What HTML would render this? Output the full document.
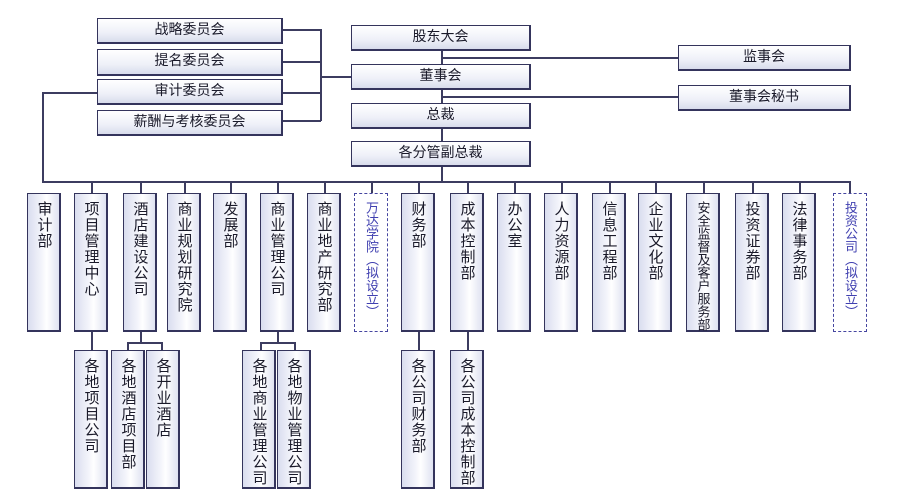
<!DOCTYPE html>
<html><head><meta charset="utf-8"><style>
body{margin:0;background:#fff;}
#c{position:relative;width:900px;height:499px;overflow:hidden;background:#fff;font-family:"Liberation Sans","Noto Sans CJK SC","WenQuanYi Zen Hei",sans-serif;color:#1a1a2a;}
.h{position:absolute;box-sizing:border-box;border:1.5px solid #34345c;border-bottom-width:2.5px;border-right-width:2px;background:linear-gradient(#ffffff,#eef0f8 60%,#d8dcec);font-size:14px;text-align:center;line-height:21px;}
.v{position:absolute;box-sizing:border-box;border:1.5px solid #34345c;border-right-width:2px;border-bottom-width:2px;background:linear-gradient(90deg,#d9ddef,#f4f5fb 45%,#fff 60%,#dfe2f1);top:193px;height:139px;width:34px;font-size:15px;}
.v span{position:absolute;top:7px;left:50%;transform:translateX(-50%);writing-mode:vertical-rl;text-orientation:upright;letter-spacing:1px;line-height:16px;white-space:nowrap;}
.v span.k{font-size:13px;letter-spacing:0;}
.s{top:350px;height:139px;}
.d{border:1.5px dashed #4646a0;background:#fff;color:#4040b0;}
.l{position:absolute;background:#3c3c60;}
</style></head><body><div id="c">
<div class="h" style="left:97px;top:18px;width:186px;height:26px">战略委员会</div>
<div class="h" style="left:97px;top:49px;width:186px;height:27px">提名委员会</div>
<div class="h" style="left:97px;top:79px;width:186px;height:26px">审计委员会</div>
<div class="h" style="left:97px;top:110px;width:186px;height:26px">薪酬与考核委员会</div>
<div class="l" style="left:283px;top:29px;width:38px;height:1.5px"></div>
<div class="l" style="left:283px;top:61px;width:38px;height:1.5px"></div>
<div class="l" style="left:283px;top:92px;width:38px;height:1.5px"></div>
<div class="l" style="left:283px;top:120px;width:38px;height:1.5px"></div>
<div class="l" style="left:320px;top:29px;width:1.5px;height:92px"></div>
<div class="l" style="left:320px;top:76px;width:31px;height:1.5px"></div>
<div class="l" style="left:43px;top:92px;width:54px;height:1.5px"></div>
<div class="l" style="left:42px;top:92px;width:1.5px;height:90px"></div>
<div class="h" style="left:351px;top:25px;width:180px;height:26px">股东大会</div>
<div class="h" style="left:351px;top:64px;width:180px;height:26px">董事会</div>
<div class="h" style="left:351px;top:103px;width:180px;height:26px">总裁</div>
<div class="h" style="left:351px;top:141px;width:180px;height:26px">各分管副总裁</div>
<div class="l" style="left:441px;top:51px;width:1.5px;height:13px"></div>
<div class="l" style="left:441px;top:90px;width:1.5px;height:13px"></div>
<div class="l" style="left:441px;top:129px;width:1.5px;height:12px"></div>
<div class="l" style="left:441px;top:167px;width:1.5px;height:14px"></div>
<div class="h" style="left:678px;top:45px;width:173px;height:26px">监事会</div>
<div class="h" style="left:678px;top:85px;width:173px;height:26px">董事会秘书</div>
<div class="l" style="left:441px;top:57px;width:237px;height:1.5px"></div>
<div class="l" style="left:441px;top:96px;width:237px;height:1.5px"></div>
<div class="l" style="left:42px;top:181px;width:808px;height:1.5px"></div>
<div class="l" style="left:91px;top:181px;width:1.5px;height:12px"></div>
<div class="l" style="left:140px;top:181px;width:1.5px;height:12px"></div>
<div class="l" style="left:184px;top:181px;width:1.5px;height:12px"></div>
<div class="l" style="left:230px;top:181px;width:1.5px;height:12px"></div>
<div class="l" style="left:277px;top:181px;width:1.5px;height:12px"></div>
<div class="l" style="left:324px;top:181px;width:1.5px;height:12px"></div>
<div class="l" style="left:371px;top:181px;width:1.5px;height:12px"></div>
<div class="l" style="left:418px;top:181px;width:1.5px;height:12px"></div>
<div class="l" style="left:467px;top:181px;width:1.5px;height:12px"></div>
<div class="l" style="left:514px;top:181px;width:1.5px;height:12px"></div>
<div class="l" style="left:561px;top:181px;width:1.5px;height:12px"></div>
<div class="l" style="left:609px;top:181px;width:1.5px;height:12px"></div>
<div class="l" style="left:655px;top:181px;width:1.5px;height:12px"></div>
<div class="l" style="left:703px;top:181px;width:1.5px;height:12px"></div>
<div class="l" style="left:752px;top:181px;width:1.5px;height:12px"></div>
<div class="l" style="left:799px;top:181px;width:1.5px;height:12px"></div>
<div class="l" style="left:849px;top:181px;width:1.5px;height:12px"></div>
<div class="v" style="left:27px"><span>审计部</span></div>
<div class="v" style="left:74px"><span>项目管理中心</span></div>
<div class="v" style="left:123px"><span>酒店建设公司</span></div>
<div class="v" style="left:167px"><span>商业规划研究院</span></div>
<div class="v" style="left:213px"><span>发展部</span></div>
<div class="v" style="left:260px"><span>商业管理公司</span></div>
<div class="v" style="left:307px"><span>商业地产研究部</span></div>
<div class="v d" style="left:354px"><span class="k">万达学院︵拟设立︶</span></div>
<div class="v" style="left:401px"><span>财务部</span></div>
<div class="v" style="left:450px"><span>成本控制部</span></div>
<div class="v" style="left:497px"><span>办公室</span></div>
<div class="v" style="left:544px"><span>人力资源部</span></div>
<div class="v" style="left:592px"><span>信息工程部</span></div>
<div class="v" style="left:638px"><span>企业文化部</span></div>
<div class="v" style="left:686px"><span class="k">安全监督及客户服务部</span></div>
<div class="v" style="left:735px"><span>投资证券部</span></div>
<div class="v" style="left:782px"><span>法律事务部</span></div>
<div class="v d" style="left:833px"><span class="k">投资公司︵拟设立︶</span></div>
<div class="l" style="left:91px;top:332px;width:1.5px;height:18px"></div>
<div class="l" style="left:140px;top:332px;width:1.5px;height:11px"></div>
<div class="l" style="left:127px;top:342px;width:35px;height:1.5px"></div>
<div class="l" style="left:127px;top:342px;width:1.5px;height:8px"></div>
<div class="l" style="left:161px;top:342px;width:1.5px;height:8px"></div>
<div class="l" style="left:277px;top:332px;width:1.5px;height:11px"></div>
<div class="l" style="left:260px;top:342px;width:35px;height:1.5px"></div>
<div class="l" style="left:260px;top:342px;width:1.5px;height:8px"></div>
<div class="l" style="left:294px;top:342px;width:1.5px;height:8px"></div>
<div class="l" style="left:418px;top:332px;width:1.5px;height:18px"></div>
<div class="l" style="left:467px;top:332px;width:1.5px;height:18px"></div>
<div class="v s" style="left:74px"><span>各地项目公司</span></div>
<div class="v s" style="left:111px"><span>各地酒店项目部</span></div>
<div class="v s" style="left:146px"><span>各开业酒店</span></div>
<div class="v s" style="left:242px"><span>各地商业管理公司</span></div>
<div class="v s" style="left:277px"><span>各地物业管理公司</span></div>
<div class="v s" style="left:401px"><span>各公司财务部</span></div>
<div class="v s" style="left:450px"><span>各公司成本控制部</span></div>
</div></body></html>
